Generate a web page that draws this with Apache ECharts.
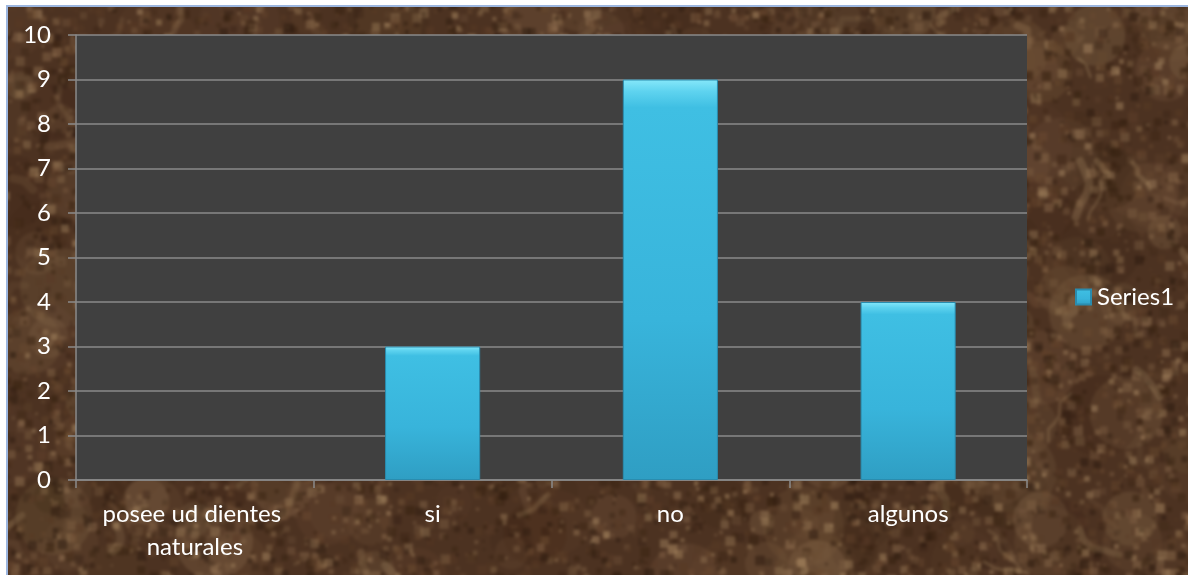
<!DOCTYPE html>
<html>
<head>
<meta charset="utf-8">
<script src="https://cdn.jsdelivr.net/npm/echarts@6/dist/echarts.min.js"></script>
<style>
  html, body { margin: 0; padding: 0; background: #ffffff; overflow: hidden; }
  #frame {
    position: absolute; left: 6px; top: 5px;
    width: 1182px; height: 570px;
    border-left: 2px solid #9cb6df; border-top: 2px solid #9cb6df;
    overflow: hidden; background: #4d3322;
  }
  #marble { position: absolute; left: -4px; top: -4px; filter: blur(1.6px); }
  #chart { position: absolute; left: 0; top: 0; width: 1188px; height: 575px; }
</style>
</head>
<body>
<div id="frame"><canvas id="marble" width="1190" height="580"></canvas></div>
<div id="chart"></div>
<script>
// Survey answers: "posee ud dientes naturales"
const categories = ['posee ud dientes naturales', 'si', 'no', 'algunos'];
const seriesName = 'Series1';
const values = [null, 3, 9, 4];
const yTicks = { min: 0, max: 10, interval: 1 };

// Brown marble backdrop
(function paintMarble() {
  const c = document.getElementById('marble');
  const w = c.width, h = c.height;
  const g = c.getContext('2d');
  g.fillStyle = '#4c3221';
  g.fillRect(0, 0, w, h);
  let seed = 90210;
  const rnd = () => { seed = (seed * 16807) % 2147483647; return seed / 2147483647; };
  // broad cloudy patches
  const clouds = ['#3a2415', '#644630', '#7a5b3e', '#8d6f4f'];
  for (let i = 0; i < 320; i++) {
    const x = rnd() * w, y = rnd() * h, r = 12 + rnd() * 30;
    g.globalAlpha = 0.12 + rnd() * 0.18;
    g.fillStyle = clouds[Math.floor(rnd() * clouds.length)];
    g.beginPath(); g.arc(x, y, r, 0, Math.PI * 2); g.fill();
  }
  // fine mottling
  const tones = ['#2a190e', '#35200f', '#6a4a30', '#866648', '#583a25', '#a4845f'];
  for (let i = 0; i < 9000; i++) {
    const x = rnd() * w, y = rnd() * h, r = 1 + rnd() * 4;
    g.globalAlpha = 0.2 + rnd() * 0.35;
    g.fillStyle = tones[Math.floor(rnd() * tones.length)];
    g.fillRect(x - r, y - r, r * 2, r * 2);
  }
  // pale veins
  g.lineCap = 'round';
  g.lineJoin = 'round';
  for (let i = 0; i < 140; i++) {
    let x = rnd() * w, y = rnd() * h;
    g.strokeStyle = rnd() < 0.7 ? '#a98a64' : '#8f7050';
    g.globalAlpha = 0.12 + rnd() * 0.2;
    g.lineWidth = 3 + rnd() * 6;
    g.beginPath(); g.moveTo(x, y);
    const steps = 2 + Math.floor(rnd() * 4);
    const dir = rnd() * Math.PI * 2;
    for (let k = 0; k < steps; k++) {
      const a = dir + (rnd() - 0.5) * 1.4;
      x += Math.cos(a) * (5 + rnd() * 12);
      y += Math.sin(a) * (5 + rnd() * 12);
      g.lineTo(x, y);
    }
    g.stroke();
  }
  g.globalAlpha = 1;
})();

const font = 'Lato, "Open Sans", sans-serif';
const chart = echarts.init(document.getElementById('chart'), null, { renderer: 'canvas' });

chart.setOption({
  backgroundColor: 'transparent',
  animation: false,
  textStyle: { fontFamily: font },
  grid: { left: 76, top: 35, right: 161, bottom: 95, show: true, backgroundColor: '#404040', borderWidth: 0 },
  legend: {
    data: [seriesName],
    left: 1070, top: 280,
    icon: 'rect', itemWidth: 15, itemHeight: 15,
    textStyle: { color: '#ffffff', fontSize: 24, fontFamily: font, padding: [0, 0, 0, 1] }
  },
  xAxis: {
    type: 'category',
    data: categories,
    axisLine: { lineStyle: { color: '#8a8a8a', width: 1.5 } },
    axisTick: { show: true, length: 8, lineStyle: { color: '#8a8a8a', width: 1.5 } },
    axisLabel: {
      color: '#ffffff', fontSize: 24, fontFamily: font, margin: 18,
      lineHeight: 33, width: 225, overflow: 'break', interval: 0
    }
  },
  yAxis: {
    type: 'value',
    min: yTicks.min, max: yTicks.max, interval: yTicks.interval,
    axisLine: { show: true, lineStyle: { color: '#8a8a8a', width: 1.5 } },
    axisTick: { show: true, length: 8, lineStyle: { color: '#8a8a8a', width: 1.5 } },
    splitLine: { lineStyle: { color: '#8a8a8a', width: 1.5 } },
    axisLabel: { color: '#ffffff', fontSize: 24, fontFamily: font, margin: 25 }
  },
  series: [{
    name: seriesName,
    type: 'bar',
    data: values,
    barWidth: '40%',
    itemStyle: {
      color: new echarts.graphic.LinearGradient(0, 0, 0, 1, [
        { offset: 0, color: '#86e8fa' },
        { offset: 0.03, color: '#5ed3ef' },
        { offset: 0.07, color: '#3fbfe3' },
        { offset: 0.6, color: '#38b4db' },
        { offset: 1, color: '#2f9ec3' }
      ]),
      borderColor: '#2a8cae',
      borderWidth: 1
    }
  }]
});
</script>
</body>
</html>
